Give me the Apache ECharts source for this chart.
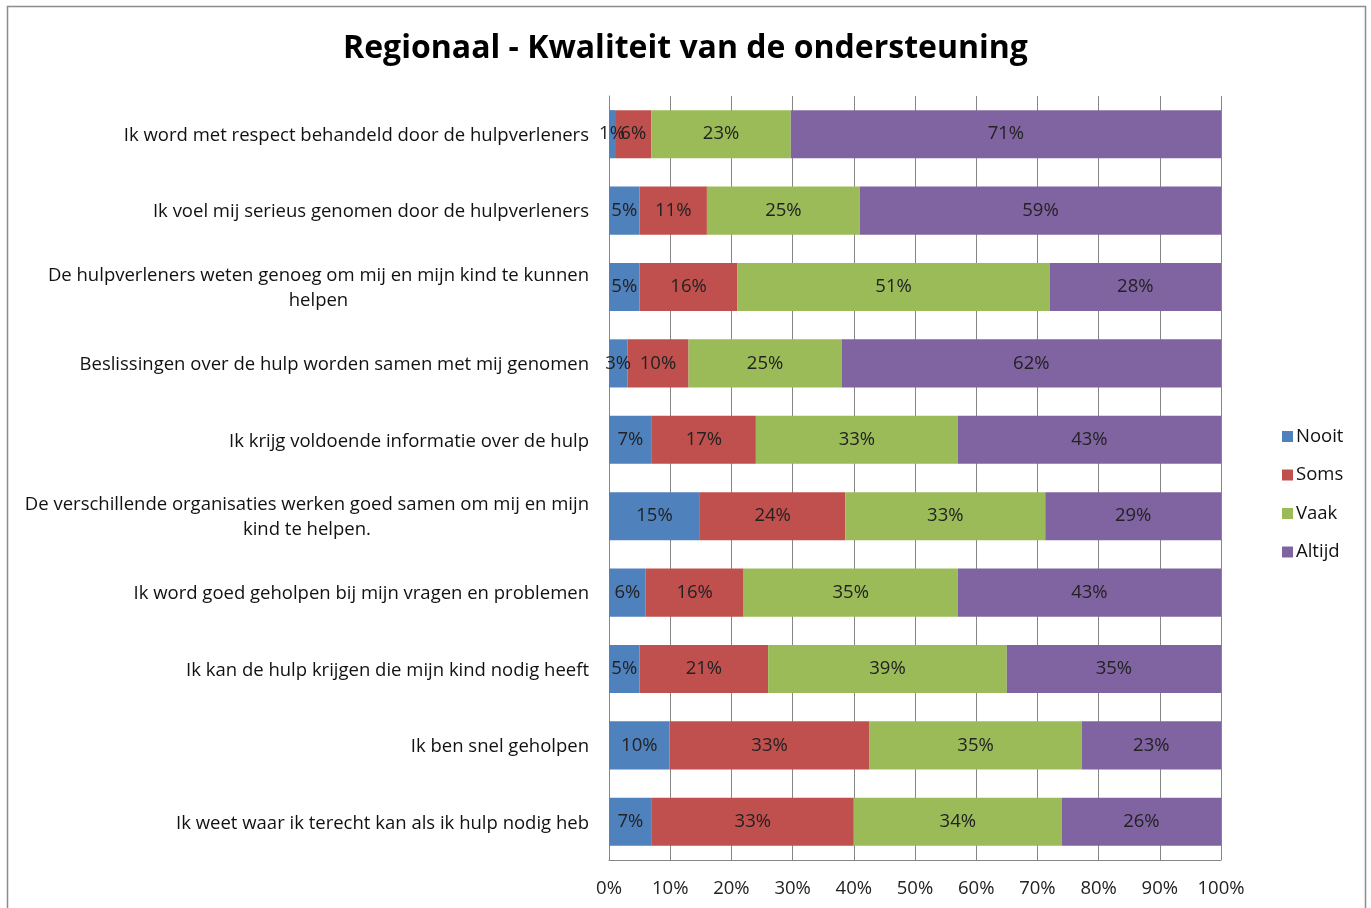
<!DOCTYPE html>
<html>
<head>
<meta charset="utf-8">
<script src="https://cdn.jsdelivr.net/npm/echarts@6/dist/echarts.min.js"></script>
<style>
  html, body { margin: 0; padding: 0; background: #fff; }
  #chart { width: 1371px; height: 908px; }
</style>
</head>
<body>
<div id="chart"></div>
<script>
// Statements (top to bottom)
const categories = [
  'Ik word met respect behandeld door de hulpverleners',
  'Ik voel mij serieus genomen door de hulpverleners',
  'De hulpverleners weten genoeg om mij en mijn kind te kunnen\nhelpen',
  'Beslissingen over de hulp worden samen met mij genomen',
  'Ik krijg voldoende informatie over de hulp',
  'De verschillende organisaties werken goed samen om mij en mijn\nkind te helpen.',
  'Ik word goed geholpen bij mijn vragen en problemen',
  'Ik kan de hulp krijgen die mijn kind nodig heeft',
  'Ik ben snel geholpen',
  'Ik weet waar ik terecht kan als ik hulp nodig heb'
];

// Answer shares in percent, per statement
const nooit  = [1, 5, 5, 3, 7, 15, 6, 5, 10, 7];
const soms   = [6, 11, 16, 10, 17, 24, 16, 21, 33, 33];
const vaak   = [23, 25, 51, 25, 33, 33, 35, 39, 35, 34];
const altijd = [71, 59, 28, 62, 43, 29, 43, 35, 23, 26];

const seriesNames = ['Nooit', 'Soms', 'Vaak', 'Altijd'];
const seriesColors = ['#4F81BD', '#C0504D', '#9BBB59', '#8064A2'];
const xTickLabels = ['0%', '10%', '20%', '30%', '40%', '50%', '60%', '70%', '80%', '90%', '100%'];

const FONT = '"Open Sans", Lato, sans-serif';
const FS = 18.5;
const allValues = [nooit, soms, vaak, altijd];
// 100% stacking: every row is scaled to its own total
const rowTotals = categories.map((_, i) => allValues.reduce((s, arr) => s + arr[i], 0));

const chart = echarts.init(document.getElementById('chart'), null, { renderer: 'canvas' });

const series = allValues.map((arr, k) => ({
  name: seriesNames[k],
  type: 'bar',
  stack: 'total',
  barWidth: '63%',
  itemStyle: { color: seriesColors[k] },
  label: {
    show: true,
    position: 'inside',
    fontFamily: FONT,
    fontSize: FS,
    color: '#222',
    padding: [2, 0, 0, 0],
    formatter: p => arr[p.dataIndex] + '%'
  },
  emphasis: { disabled: true },
  data: arr.map((v, i) => v / rowTotals[i] * 100)
}));

chart.setOption({
  animation: false,
  backgroundColor: '#fff',
  graphic: [{
    type: 'rect',
    shape: { x: 7.5, y: 6.5, width: 1358, height: 920 },
    style: { fill: 'none', stroke: '#8c8c8c', lineWidth: 1.5 },
    silent: true,
    z: -1
  }],
  title: {
    text: 'Regionaal - Kwaliteit van de ondersteuning',
    left: 'center',
    top: 28,
    textStyle: { fontFamily: FONT, fontSize: 32, fontWeight: 'bold', color: '#000' }
  },
  legend: {
    orient: 'vertical',
    left: 1277,
    top: 422,
    itemWidth: 11,
    itemHeight: 11,
    itemGap: 19.5,
    icon: 'rect',
    textStyle: { fontFamily: FONT, fontSize: FS, color: '#111', padding: [0, 0, 0, -2] },
    data: seriesNames
  },
  grid: { left: 609, right: 150, top: 96, bottom: 48 },
  xAxis: {
    type: 'value',
    min: 0,
    max: 100,
    interval: 10,
    axisLine: { show: true, lineStyle: { color: '#868686' } },
    axisTick: { show: false },
    splitLine: { show: true, lineStyle: { color: '#868686', width: 1 } },
    axisLabel: {
      margin: 19,
      fontFamily: FONT,
      fontSize: FS,
      color: '#222',
      formatter: v => xTickLabels[Math.round(v / 10)]
    }
  },
  yAxis: {
    type: 'category',
    inverse: true,
    data: categories,
    axisLine: { show: true, lineStyle: { color: '#868686' } },
    axisTick: { show: false },
    axisLabel: {
      margin: 20,
      fontFamily: FONT,
      fontSize: FS,
      color: '#111',
      lineHeight: 25,
      padding: [3, 0, 0, 0],
      formatter: v => v.split('\n').map(s => '{c|' + s + '}').join('\n'),
      rich: { c: { align: 'center', fontFamily: FONT, fontSize: FS, color: '#111', lineHeight: 25 } }
    }
  },
  series
});
</script>
</body>
</html>
